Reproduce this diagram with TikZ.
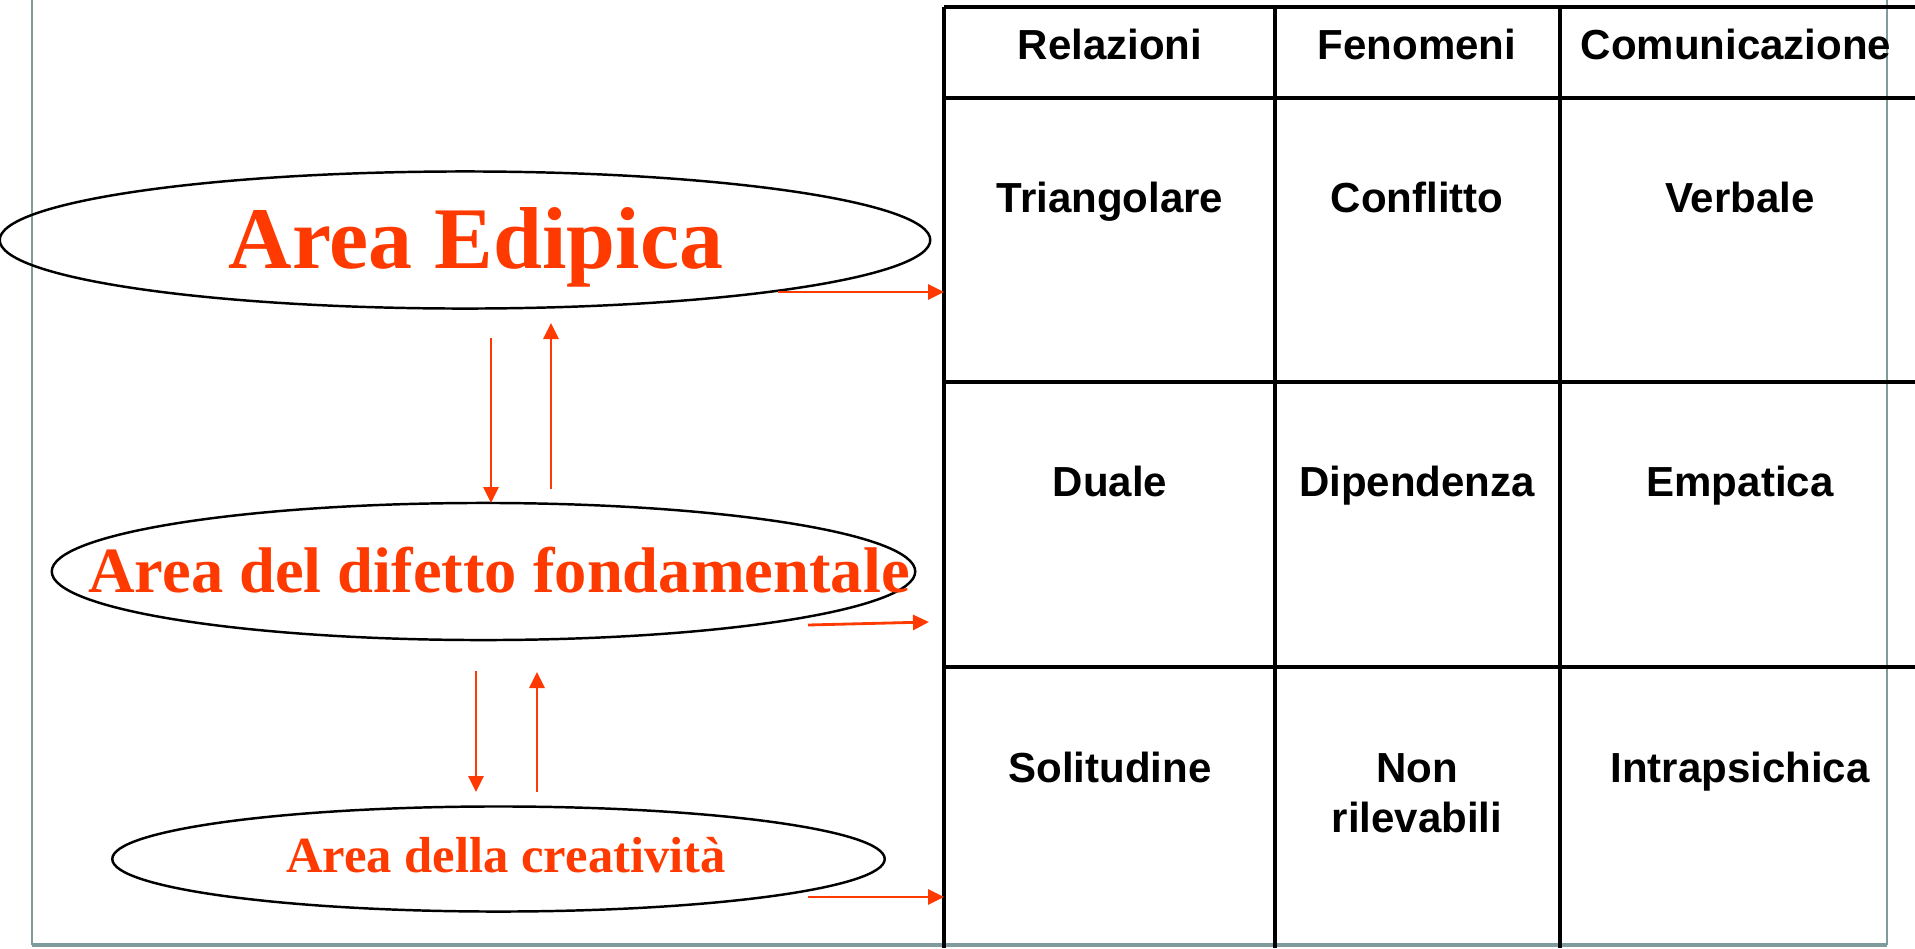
\documentclass[tikz,border=0pt]{standalone}
\usepackage{fontspec}
\setmainfont{Liberation Serif}
\setsansfont{Liberation Sans}
\usetikzlibrary{shapes.geometric,arrows.meta}
\definecolor{aorange}{RGB}{255,58,0}
\definecolor{frameg}{RGB}{128,155,155}
\begin{document}
\begin{tikzpicture}[x=0.01cm,y=-0.01cm,
  oval/.style={ellipse,draw=black,line width=0.7pt,inner sep=0pt},
  areatext/.style={text=aorange,font=\rmfamily\bfseries,anchor=base,inner sep=0pt},
  cell/.style={font=\sffamily\bfseries\fontsize{11.95}{14.2}\selectfont,anchor=base,inner sep=0pt},
  redarrow/.style={draw=aorange,line width=0.8pt,-{Triangle[length=0.16cm,width=0.15cm]}},
  gridline/.style={line width=1pt,draw=black},
  frameline/.style={draw=frameg,line width=0.8pt}]
\useasboundingbox (0,0) rectangle (1915,948);
% slide frame
\coordinate (f1) at (32,0);
\coordinate (f2) at (32,945);
\coordinate (f3) at (1887,945);
\coordinate (f4) at (1887,0);
\draw[frameline] (f1) -- (f2);
\draw[frameline,line width=1.1pt] (f2) -- (f3);
\draw[frameline] (f3) -- (f4);
% table grid
\foreach \y/\n in {7/h0,98/h1,382/h2,667/h3}{
  \coordinate (\n a) at (944,\y);
  \coordinate (\n b) at (1915,\y);
  \draw[gridline] (\n a) -- (\n b);
}
\foreach \x/\n in {944/v0,1275/v1,1560/v2}{
  \coordinate (\n a) at (\x,7);
  \coordinate (\n b) at (\x,948);
  \draw[gridline] (\n a) -- (\n b);
}
% table texts
\node[cell] (c01) at (1110,59) {Relazioni};
\node[cell] (c02) at (1417,59) {Fenomeni};
\node[cell] (c03) at (1736,59) {Comunicazione};
\node[cell] (c11) at (1110,212) {Triangolare};
\node[cell] (c12) at (1417,212) {Conflitto};
\node[cell] (c13) at (1740,212) {Verbale};
\node[cell] (c21) at (1110,496) {Duale};
\node[cell] (c22) at (1417,496) {Dipendenza};
\node[cell] (c23) at (1740,496) {Empatica};
\node[cell] (c31) at (1110,782) {Solitudine};
\node[cell] (c32) at (1417,782) {Non};
\node[cell] (c32b) at (1417,832) {rilevabili};
\node[cell] (c33) at (1740,782) {Intrapsichica};
% ellipses
\node[oval,minimum width=9.30cm,minimum height=1.37cm] (e1) at (465,240) {};
\node[oval,minimum width=8.63cm,minimum height=1.37cm] (e2) at (483.5,571.5) {};
\node[oval,minimum width=7.72cm,minimum height=1.05cm] (e3) at (498.5,859) {};
\node[areatext,font=\rmfamily\bfseries\fontsize{25}{30}\selectfont] (t1) at (476,268) {Area Edipica};
\node[areatext,font=\rmfamily\bfseries\fontsize{18.35}{22}\selectfont] (t2) at (499,592) {Area del difetto fondamentale};
\node[areatext,font=\rmfamily\bfseries\fontsize{14.4}{17}\selectfont] (t3) at (506,872) {Area della creatività};
% arrows to table
\coordinate (a1s) at (778,292); \coordinate (a1e) at (944,292);
\coordinate (a2s) at (808,625); \coordinate (a2e) at (929,622);
\coordinate (a3s) at (808,897); \coordinate (a3e) at (944,897);
\draw[redarrow] (a1s) -- (a1e);
\draw[redarrow] (a2s) -- (a2e);
\draw[redarrow] (a3s) -- (a3e);
% vertical arrows
\coordinate (d1s) at (491,338); \coordinate (d1e) at (491,503);
\coordinate (u1s) at (551,489); \coordinate (u1e) at (551,323);
\coordinate (d2s) at (476,671); \coordinate (d2e) at (476,792);
\coordinate (u2s) at (537,792); \coordinate (u2e) at (537,672);
\draw[redarrow] (d1s) -- (d1e);
\draw[redarrow] (u1s) -- (u1e);
\draw[redarrow] (d2s) -- (d2e);
\draw[redarrow] (u2s) -- (u2e);
\end{tikzpicture}
\end{document}
